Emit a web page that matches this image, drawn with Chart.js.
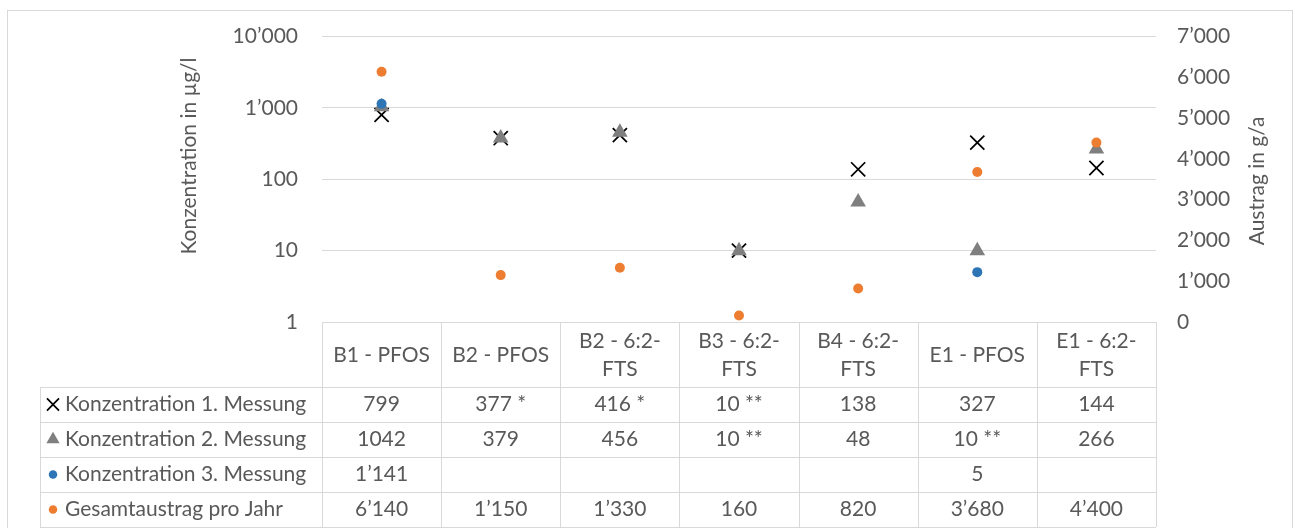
<!DOCTYPE html>
<html>
<head>
<meta charset="utf-8">
<script src="https://cdn.jsdelivr.net/npm/chart.js@4"></script>
<style>
  html, body { margin: 0; padding: 0; background: #fff; }
</style>
</head>
<body>
<canvas id="chart" width="1295" height="528"></canvas>
<script>
// categories (header of the data table, already wrapped like in Excel)
const categories = [
    ['B1 - PFOS'],
    ['B2 - PFOS'],
    ['B2 - 6:2-', 'FTS'],
    ['B3 - 6:2-', 'FTS'],
    ['B4 - 6:2-', 'FTS'],
    ['E1 - PFOS'],
    ['E1 - 6:2-', 'FTS']
];

// concentrations in µg/l (left, log axis)
const conc1 = [799, 377, 416, 10, 138, 327, 144];
const conc2 = [1042, 379, 456, 10, 48, 10, 266];
const conc3 = [1141, null, null, null, null, 5, null];

// total discharge in g/a (right axis)
const total = [6140, 1150, 1330, 160, 820, 3680, 4400];

// what the data table prints
const conc1Text = ['799', '377 *', '416 *', '10 **', '138', '327', '144'];
const conc2Text = ['1042', '379', '456', '10 **', '48', '10 **', '266'];
const conc3Text = ['1\u2019141', '', '', '', '', '5', ''];
const totalText = ['6\u2019140', '1\u2019150', '1\u2019330', '160', '820', '3\u2019680', '4\u2019400'];

const concTicks = [1, 10, 100, 1000, 10000];

const TEXT = '#595959';
const GRID = '#d9d9d9';
const FONT_FAMILY = 'Lato';
const FONT_SIZE = 21;

function fmt(v) {
    return Math.round(v).toString().replace(/\B(?=(\d{3})+(?!\d))/g, '\u2019');
}

// white background and the light chart border
const frame = {
    id: 'frame',
    beforeDraw(chart) {
        const ctx = chart.ctx;
        ctx.save();
        ctx.fillStyle = '#fff';
        ctx.fillRect(0, 0, chart.width, chart.height);
        ctx.strokeStyle = GRID;
        ctx.lineWidth = 1;
        ctx.strokeRect(7.5, 10.5, 1285, 540);
        ctx.restore();
    }
};

const axisTitles = {
    id: 'axisTitles',
    afterDraw(chart) {
        const ctx = chart.ctx;
        const titles = [
            [189, 156, 'Konzentration in \u00b5g/l'],
            [1257, 181, 'Austrag in g/a']
        ];
        ctx.save();
        ctx.font = FONT_SIZE + 'px ' + FONT_FAMILY;
        ctx.fillStyle = TEXT;
        ctx.textAlign = 'center';
        ctx.textBaseline = 'middle';
        titles.forEach(([x, y, t]) => {
            ctx.save();
            ctx.translate(x, y);
            ctx.rotate(-Math.PI / 2);
            ctx.fillText(t, 0, 0);
            ctx.restore();
        });
        ctx.restore();
    }
};

// Excel style data table under the plot, columns taken from the x scale
const dataTable = {
    id: 'dataTable',
    afterDraw(chart) {
        const { ctx, chartArea } = chart;
        const xs = chart.scales.x;
        const n = categories.length;
        const colW = (chartArea.right - chartArea.left) / n;
        const top = chartArea.bottom;
        const headH = 65;
        const rowH = 35;
        const legendLeft = 40;
        const rows = [conc1Text, conc2Text, conc3Text, totalText];
        const yRow = r => top + headH + r * rowH;
        const px = v => Math.round(v) + 0.5;

        ctx.save();
        ctx.strokeStyle = GRID;
        ctx.lineWidth = 1;
        ctx.beginPath();
        ctx.moveTo(chartArea.left, px(top));
        ctx.lineTo(chartArea.right, px(top));
        for (let r = 0; r <= rows.length; r++) {
            ctx.moveTo(legendLeft, px(yRow(r)));
            ctx.lineTo(chartArea.right, px(yRow(r)));
        }
        for (let i = 0; i <= n; i++) {
            const x0 = px(chartArea.left + i * colW);
            ctx.moveTo(x0, top);
            ctx.lineTo(x0, yRow(rows.length));
        }
        ctx.moveTo(px(legendLeft), yRow(0));
        ctx.lineTo(px(legendLeft), yRow(rows.length));
        ctx.stroke();

        ctx.font = FONT_SIZE + 'px ' + FONT_FAMILY;
        ctx.fillStyle = TEXT;
        ctx.textAlign = 'center';
        ctx.textBaseline = 'middle';
        categories.forEach((lines, i) => {
            const cx = xs.getPixelForValue(i);
            const cy = top + headH / 2 + 1;
            lines.forEach((l, j) => {
                ctx.fillText(l, cx, cy + (j - (lines.length - 1) / 2) * 28);
            });
        });
        rows.forEach((texts, r) => {
            const cy = yRow(r) + rowH / 2;
            texts.forEach((t, i) => {
                ctx.fillText(t, xs.getPixelForValue(i), cy);
            });
        });

        // legend keys
        chart.data.datasets.forEach((ds, r) => {
            const cy = yRow(r) + rowH / 2;
            ctx.fillStyle = ds.pointBackgroundColor;
            ctx.strokeStyle = ds.pointBorderColor;
            ctx.lineWidth = ds.pointBorderWidth;
            Chart.helpers.drawPoint(ctx, {
                pointStyle: ds.pointStyle,
                radius: ds.pointRadius * 0.85,
                rotation: 0,
                borderWidth: ds.pointBorderWidth
            }, 53, cy);
            ctx.fillStyle = TEXT;
            ctx.textAlign = 'left';
            ctx.fillText(ds.label, 65, cy);
        });
        ctx.restore();
    }
};

const tickFont = { family: FONT_FAMILY, size: FONT_SIZE };

new Chart(document.getElementById('chart'), {
    type: 'line',
    data: {
        labels: categories,
        datasets: [
            {
                label: 'Konzentration 1. Messung',
                data: conc1,
                yAxisID: 'y',
                showLine: false,
                pointStyle: 'crossRot',
                pointRadius: 10,
                pointBorderWidth: 1.75,
                pointBorderColor: '#000000',
                pointBackgroundColor: '#000000',
                borderColor: '#000000',
                order: 4
            },
            {
                label: 'Konzentration 2. Messung',
                data: conc2,
                yAxisID: 'y',
                showLine: false,
                pointStyle: 'triangle',
                pointRadius: 9,
                pointBorderWidth: 0,
                pointBorderColor: '#7f7f7f',
                pointBackgroundColor: '#7f7f7f',
                borderColor: '#7f7f7f',
                order: 3
            },
            {
                label: 'Konzentration 3. Messung',
                data: conc3,
                yAxisID: 'y',
                showLine: false,
                pointStyle: 'circle',
                pointRadius: 5,
                pointBorderWidth: 0,
                pointBorderColor: '#2e75b6',
                pointBackgroundColor: '#2e75b6',
                borderColor: '#2e75b6',
                order: 2
            },
            {
                label: 'Gesamtaustrag pro Jahr',
                data: total,
                yAxisID: 'y2',
                showLine: false,
                pointStyle: 'circle',
                pointRadius: 5,
                pointBorderWidth: 0,
                pointBorderColor: '#ed7d31',
                pointBackgroundColor: '#ed7d31',
                borderColor: '#ed7d31',
                order: 1
            }
        ]
    },
    options: {
        responsive: false,
        animation: false,
        devicePixelRatio: 1,
        clip: false,
        layout: { padding: { top: 34, left: 0, right: 0, bottom: 0 } },
        plugins: {
            legend: { display: false },
            tooltip: { enabled: false }
        },
        scales: {
            x: {
                type: 'category',
                offset: true,
                ticks: { display: false },
                grid: { display: false },
                border: { display: false },
                afterFit(s) { s.height = 206; }
            },
            y: {
                type: 'logarithmic',
                position: 'left',
                min: 1,
                max: 10000,
                afterBuildTicks(s) { s.ticks = concTicks.map(v => ({ value: v })); },
                ticks: { callback: v => fmt(v), padding: 24, color: TEXT, font: tickFont, autoSkip: false },
                grid: { color: GRID, drawTicks: false },
                border: { display: false },
                afterFit(s) { s.width = 322; }
            },
            y2: {
                type: 'linear',
                position: 'right',
                min: 0,
                max: 7000,
                ticks: { stepSize: 1000, callback: v => fmt(v), padding: 13, color: TEXT, font: tickFont },
                grid: { display: false },
                border: { display: false },
                afterFit(s) { s.width = 139; }
            }
        }
    },
    plugins: [frame, dataTable, axisTitles]
});
</script>
</body>
</html>
